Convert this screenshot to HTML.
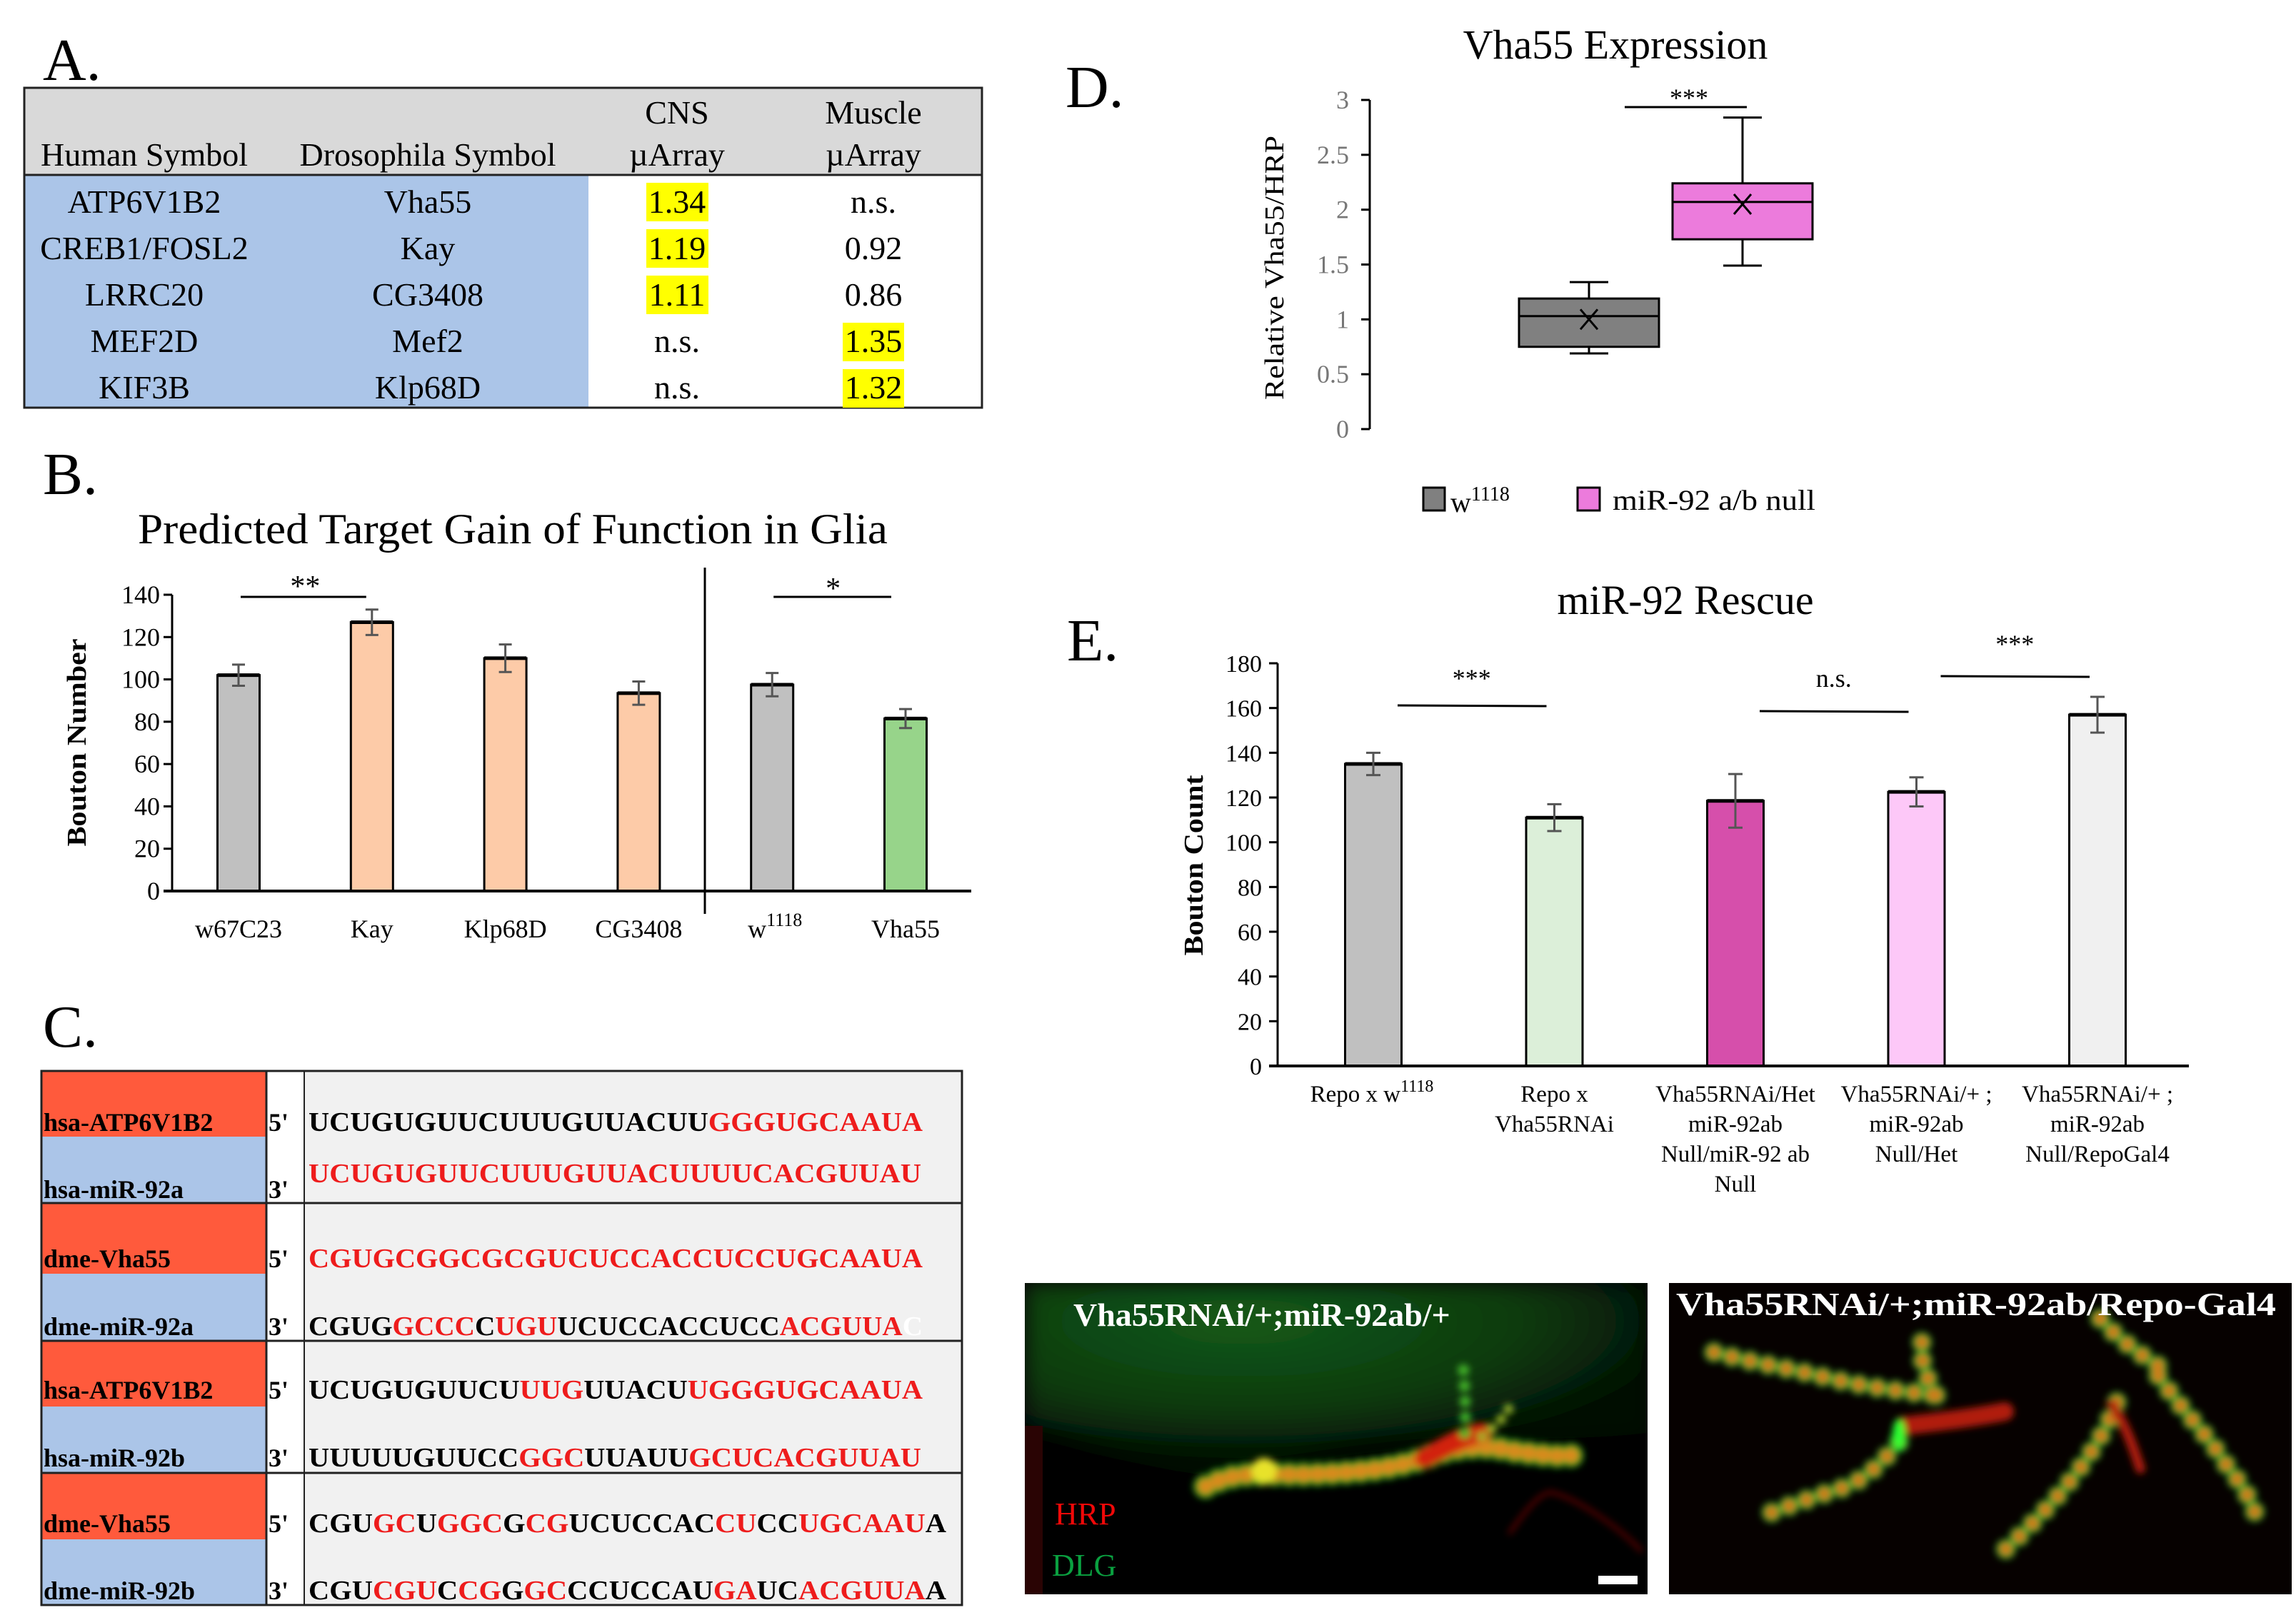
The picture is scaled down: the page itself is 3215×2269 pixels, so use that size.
<!DOCTYPE html>
<html><head><meta charset="utf-8"><title>Figure</title>
<style>
html,body{margin:0;padding:0;background:#fff;}
svg{display:block;font-family:"Liberation Serif","DejaVu Serif",serif;}
</style></head>
<body>
<svg id="fig" xmlns="http://www.w3.org/2000/svg" width="3215" height="2269" viewBox="0 0 3215 2269">
<defs>
<filter id="blur3" x="-20%" y="-20%" width="140%" height="140%"><feGaussianBlur stdDeviation="5"/></filter>
<filter id="blur12" x="-50%" y="-50%" width="200%" height="200%"><feGaussianBlur stdDeviation="14"/></filter>
<radialGradient id="haze" cx="0.35" cy="0.2" r="0.75">
<stop offset="0" stop-color="#145a18"/><stop offset="0.6" stop-color="#0b3a0e"/><stop offset="1" stop-color="#020902"/>
</radialGradient>
<clipPath id="clipL"><rect x="0" y="0" width="872" height="436"/></clipPath>
<clipPath id="clipR"><rect x="0" y="0" width="872" height="436"/></clipPath>
</defs>

<!-- Panel A -->
<g>
<text x="60" y="112" font-size="84">A.</text>
<g>
<rect x="34" y="123" width="1341" height="122" fill="#d9d9d9"/>
<rect x="34" y="245" width="790" height="326" fill="#abc5e8"/>
<rect x="34" y="123" width="1341" height="448" fill="none" stroke="#222" stroke-width="3"/>
<line x1="34" y1="245" x2="1375" y2="245" stroke="#222" stroke-width="3"/>
<g font-size="46" text-anchor="middle">
<text x="202" y="232">Human Symbol</text>
<text x="599" y="232">Drosophila Symbol</text>
<text x="948" y="173">CNS</text>
<text x="948" y="232">µArray</text>
<text x="1223" y="173">Muscle</text>
<text x="1223" y="232">µArray</text>
</g>
<g fill="#ffff00">
<rect x="905" y="256" width="87" height="54"/>
<rect x="905" y="321" width="87" height="54"/>
<rect x="905" y="386" width="87" height="54"/>
<rect x="1180" y="452" width="86" height="54"/>
<rect x="1180" y="517" width="86" height="54"/>
</g>
<g font-size="46" text-anchor="middle">
<text x="202" y="298">ATP6V1B2</text><text x="599" y="298">Vha55</text><text x="948" y="298">1.34</text><text x="1223" y="298">n.s.</text>
<text x="202" y="363">CREB1/FOSL2</text><text x="599" y="363">Kay</text><text x="948" y="363">1.19</text><text x="1223" y="363">0.92</text>
<text x="202" y="428">LRRC20</text><text x="599" y="428">CG3408</text><text x="948" y="428">1.11</text><text x="1223" y="428">0.86</text>
<text x="202" y="493">MEF2D</text><text x="599" y="493">Mef2</text><text x="948" y="493">n.s.</text><text x="1223" y="493">1.35</text>
<text x="202" y="558">KIF3B</text><text x="599" y="558">Klp68D</text><text x="948" y="558">n.s.</text><text x="1223" y="558">1.32</text>
</g>
</g>
</g>

<!-- Panel B -->
<g id="panelB">
<text x="60" y="692" font-size="84">B.</text>
<text x="718" y="761" font-size="60" text-anchor="middle" textLength="1050" lengthAdjust="spacingAndGlyphs">Predicted Target Gain of Function in Glia</text>
<text transform="translate(120,1040) rotate(-90)" font-size="38" font-weight="bold" text-anchor="middle" textLength="291" lengthAdjust="spacingAndGlyphs">Bouton Number</text>
</g>

<!-- Panel C -->
<g>
<text x="60" y="1466" font-size="84">C.</text>
<g>
<rect x="426" y="1500" width="921" height="748" fill="#f1f1f1"/>
<rect x="373" y="1500" width="53" height="748" fill="#ffffff"/>
<rect x="58" y="1500" width="315" height="92" fill="#ff5a3c"/><rect x="58" y="1592" width="315" height="93" fill="#abc5e8"/>
<rect x="58" y="1685" width="315" height="99" fill="#ff5a3c"/><rect x="58" y="1784" width="315" height="94" fill="#abc5e8"/>
<rect x="58" y="1878" width="315" height="92" fill="#ff5a3c"/><rect x="58" y="1970" width="315" height="93" fill="#abc5e8"/>
<rect x="58" y="2063" width="315" height="93" fill="#ff5a3c"/><rect x="58" y="2156" width="315" height="92" fill="#abc5e8"/>
<rect x="58" y="1500" width="1289" height="748" fill="none" stroke="#222" stroke-width="3"/>
<line x1="373" y1="1500" x2="373" y2="2248" stroke="#222" stroke-width="3"/>
<line x1="426" y1="1500" x2="426" y2="2248" stroke="#222" stroke-width="2"/>
<line x1="58" y1="1685" x2="1347" y2="1685" stroke="#222" stroke-width="3"/>
<line x1="58" y1="1878" x2="1347" y2="1878" stroke="#222" stroke-width="3"/>
<line x1="58" y1="2063" x2="1347" y2="2063" stroke="#222" stroke-width="3"/>
<g font-size="36" font-weight="bold">
<text x="61" y="1584">hsa-ATP6V1B2</text>
<text x="61" y="1678">hsa-miR-92a</text>
<text x="61" y="1775">dme-Vha55</text>
<text x="61" y="1870">dme-miR-92a</text>
<text x="61" y="1959">hsa-ATP6V1B2</text>
<text x="61" y="2054">hsa-miR-92b</text>
<text x="61" y="2146">dme-Vha55</text>
<text x="61" y="2240">dme-miR-92b</text>
<text x="376" y="1584">5'</text><text x="376" y="1678">3'</text>
<text x="376" y="1775">5'</text><text x="376" y="1870">3'</text>
<text x="376" y="1959">5'</text><text x="376" y="2054">3'</text>
<text x="376" y="2146">5'</text><text x="376" y="2240">3'</text>
</g>
<g font-size="38" font-weight="bold" fill="#000">
<text x="432" y="1584" textLength="860" lengthAdjust="spacingAndGlyphs">UCUGUGUUCUUUGUUACUU<tspan fill="#ee1c1c">GGGUGCAAUA</tspan></text>
<text x="432" y="1656" textLength="858" lengthAdjust="spacingAndGlyphs" fill="#ee1c1c">UCUGUGUUCUUUGUUACUUUUCACGUUAU</text>
<text x="432" y="1775" textLength="860" lengthAdjust="spacingAndGlyphs" fill="#ee1c1c">CGUGCGGCGCGUCUCCACCUCCUGCAAUA</text>
<text x="432" y="1870" textLength="860" lengthAdjust="spacingAndGlyphs">CGUG<tspan fill="#ee1c1c">GCCC</tspan>C<tspan fill="#ee1c1c">UGU</tspan>UCUCCACCUCC<tspan fill="#ee1c1c">ACGUUA</tspan><tspan fill="#ffffff">C</tspan></text>
<text x="432" y="1959" textLength="860" lengthAdjust="spacingAndGlyphs">UCUGUGUUCU<tspan fill="#ee1c1c">UUG</tspan>UUACU<tspan fill="#ee1c1c">UGGGUGCAAUA</tspan></text>
<text x="432" y="2054" textLength="858" lengthAdjust="spacingAndGlyphs">UUUUUGUUCC<tspan fill="#ee1c1c">GGC</tspan>UUAUU<tspan fill="#ee1c1c">GCUCACGUUAU</tspan></text>
<text x="432" y="2146" textLength="893" lengthAdjust="spacingAndGlyphs">CGU<tspan fill="#ee1c1c">GC</tspan>U<tspan fill="#ee1c1c">GGC</tspan>G<tspan fill="#ee1c1c">CG</tspan>UCUCCAC<tspan fill="#ee1c1c">CU</tspan>CC<tspan fill="#ee1c1c">UGCAAU</tspan>A</text>
<text x="432" y="2240" textLength="893" lengthAdjust="spacingAndGlyphs">CGU<tspan fill="#ee1c1c">CGU</tspan>C<tspan fill="#ee1c1c">CG</tspan>G<tspan fill="#ee1c1c">GC</tspan>CCUCCAU<tspan fill="#ee1c1c">GA</tspan>UC<tspan fill="#ee1c1c">ACGUUA</tspan>A</text>
</g>
</g>
</g>

<!-- Panel D -->
<g id="panelD">
<text x="1492" y="150" font-size="84">D.</text>
<text x="2262" y="82" font-size="58" text-anchor="middle">Vha55 Expression</text>
<text transform="translate(1797,375) rotate(-90)" font-size="38" text-anchor="middle" textLength="370" lengthAdjust="spacingAndGlyphs">Relative Vha55/HRP</text>
</g>

<!-- Panel E -->
<g id="panelE">
<text x="1494" y="925" font-size="84">E.</text>
<text x="2360" y="860" font-size="58" text-anchor="middle">miR-92 Rescue</text>
<text transform="translate(1684,1212) rotate(-90)" font-size="38" font-weight="bold" text-anchor="middle" textLength="253" lengthAdjust="spacingAndGlyphs">Bouton Count</text>
</g>

<!-- Micrographs -->
<g transform="translate(1435,1797)">
<g clip-path="url(#clipL)">
<rect width="872" height="436" fill="#000"/>
<path d="M0 0 H872 V210 C700 230 500 200 380 250 C250 300 150 240 0 200 Z" fill="url(#haze)" filter="url(#blur12)"/>
<rect x="0" y="200" width="25" height="236" fill="#2a0404"/>
<g filter="url(#blur3)" fill="none" stroke-linecap="round">
<path d="M253 285 C300 260 340 270 400 268 C460 266 520 260 560 245 C600 230 640 225 680 235 C720 240 750 245 775 240" stroke="#1ea41e" stroke-width="34" stroke-dasharray="0 20"/>
<path d="M253 285 C300 260 340 270 400 268 C460 266 520 260 560 245 C600 230 640 225 680 235 C720 240 750 245 775 240" stroke="#d98a1c" stroke-width="22" stroke-dasharray="0 20"/>
<path d="M560 245 C590 230 610 215 640 210" stroke="#d22010" stroke-width="28"/>
<path d="M616 210 C618 180 616 150 614 118" stroke="#44b82a" stroke-width="16" stroke-dasharray="0 22"/>
<path d="M640 215 C660 200 675 185 680 170" stroke="#9bb52a" stroke-width="14" stroke-dasharray="0 18"/>
<path d="M679 350 C700 320 720 295 736 293 C770 300 830 340 863 375" stroke="#7a0c06" stroke-width="4"/>
<circle cx="335" cy="263" r="18" fill="#e8e22a" stroke="none"/>
</g>
<text x="68" y="60" font-size="46" font-weight="bold" fill="#fff">Vha55RNAi/+;miR-92ab/+</text>
<text x="42" y="338" font-size="44" fill="#f00808">HRP</text>
<text x="38" y="410" font-size="44" fill="#0aa040">DLG</text>
<rect x="803" y="410" width="55" height="12" fill="#fff"/>
</g>
</g>
<g transform="translate(2337,1797)">
<g clip-path="url(#clipR)">
<rect width="872" height="436" fill="#060100"/>
<g filter="url(#blur3)" fill="none" stroke-linecap="round">
<g stroke="#2aa62a" stroke-width="28" stroke-dasharray="0 26">
<path d="M63 97 C110 110 155 117 210 130 C250 140 300 150 374 157"/>
<path d="M322 223 C300 250 280 270 250 285 C200 300 160 315 121 330"/>
<path d="M627 167 C600 240 540 310 466 378"/>
<path d="M685 130 C720 180 760 220 777 250 C800 280 815 300 823 330"/>
<path d="M604 50 C630 80 660 100 696 123"/>
<path d="M374 157 C360 130 350 110 355 75"/>
</g>
<g stroke="#cf7a1a" stroke-width="18" stroke-dasharray="0 26">
<path d="M63 97 C110 110 155 117 210 130 C250 140 300 150 374 157"/>
<path d="M322 223 C300 250 280 270 250 285 C200 300 160 315 121 330"/>
<path d="M627 167 C600 240 540 310 466 378"/>
<path d="M685 130 C720 180 760 220 777 250 C800 280 815 300 823 330"/>
<path d="M604 50 C630 80 660 100 696 123"/>
<path d="M374 157 C360 130 350 110 355 75"/>
</g>
<path d="M330 200 C370 195 420 190 470 180" stroke="#b01a0e" stroke-width="26"/>
<path d="M620 170 C640 200 650 230 660 260" stroke="#b01a0e" stroke-width="14"/>
<ellipse cx="322" cy="212" rx="9" ry="22" fill="#2bff30" stroke="none"/>
</g>
</g>
<text x="10" y="45" font-size="46" font-weight="bold" fill="#fff" textLength="840" lengthAdjust="spacingAndGlyphs">Vha55RNAi/+;miR-92ab/Repo-Gal4</text>
</g>

<script>
// ---------- Panel B data ----------
const bCategories = ['w67C23','Kay','Klp68D','CG3408','w1118','Vha55'];
const bValues = [102, 127, 110, 93.5, 97.5, 81.5];
const bErrors = [5, 6, 6.5, 5.5, 5.5, 4.5];
const bColors = ['#c0c0c0','#fdcba8','#fdcba8','#fdcba8','#c0c0c0','#97d48a'];
const bTicks = [0, 20, 40, 60, 80, 100, 120, 140];

// ---------- Panel D data ----------
const dGroups = ['w1118','miR-92 a/b null'];
const dMin = [0.69, 1.49];
const dQ1 = [0.75, 1.73];
const dMedian = [1.03, 2.07];
const dQ3 = [1.19, 2.24];
const dMax = [1.34, 2.84];
const dMean = [1.0, 2.05];
const dTicks = [0, 0.5, 1, 1.5, 2, 2.5, 3];
const dTickLabels = ['0','0.5','1','1.5','2','2.5','3'];

// ---------- Panel E data ----------
const eCategories = ['Repo x w1118','Repo x Vha55RNAi','Vha55RNAi/Het miR-92ab Null/miR-92 ab Null','Vha55RNAi/+ ; miR-92ab Null/Het','Vha55RNAi/+ ; miR-92ab Null/RepoGal4'];
const eValues = [135, 111, 118.5, 122.5, 157];
const eErrors = [5, 6, 12, 6.5, 8];
const eColors = ['#c0c0c0','#dcefd9','#d64fab','#fdc8f8','#f0f0f0'];
const eTicks = [0, 20, 40, 60, 80, 100, 120, 140, 160, 180];

const NS = 'http://www.w3.org/2000/svg';
function mk(tag, attrs, parent){
  const e = document.createElementNS(NS, tag);
  for (const k in attrs) e.setAttribute(k, attrs[k]);
  parent.appendChild(e);
  return e;
}
function withSup(t, base, sup, fs, dy){
  t.textContent = '';
  t.appendChild(document.createTextNode(base));
  const ts = document.createElementNS(NS, 'tspan');
  ts.setAttribute('font-size', fs);
  ts.setAttribute('dy', dy);
  ts.textContent = sup;
  t.appendChild(ts);
}

// ===== Chart B =====
(function(){
  const g = document.getElementById('panelB');
  const y0 = 1248, yTop = 833, vMax = 140;
  const by = v => y0 - v * (y0 - yTop) / vMax;
  const bx = i => 334 + i * 186.8;
  const bw = 59;
  bTicks.forEach(t => {
    const tk = mk('line', {x1:229, x2:241, y1:by(t), y2:by(t), stroke:'#000','stroke-width':3}, g);
    
    
    const tl = mk('text', {x:224, y:by(t)+12, 'font-size':36, 'text-anchor':'end'}, g);
    tl.textContent = t;
    
    
  });
  const ax = mk('line', {x1:241, x2:241, y1:yTop, y2:y0, stroke:'#000','stroke-width':3}, g);
  
  
  bValues.forEach((v, i) => {
    const r = mk('rect', {x:bx(i)-bw/2, y:by(v), width:bw, height:y0-by(v), fill:bColors[i], stroke:'#000','stroke-width':3}, g);
    
    
    mk('line', {x1:bx(i)-bw/2, x2:bx(i)+bw/2, y1:by(v), y2:by(v), stroke:'#000','stroke-width':5}, g);
    const e = mk('path', {d:`M${bx(i)} ${by(v+bErrors[i])} V${by(v-bErrors[i])} M${bx(i)-9} ${by(v+bErrors[i])} H${bx(i)+9} M${bx(i)-9} ${by(v-bErrors[i])} H${bx(i)+9}`, stroke:'#555','stroke-width':3, fill:'none'}, g);
    
    
    const lab = mk('text', {x:bx(i), y:1313, 'font-size':36, 'text-anchor':'middle'}, g);
    if (bCategories[i] === 'w1118') {
      lab.setAttribute('x', bx(i) + 4);
      withSup(lab, 'w', '1118', 26, -16);
    } else lab.textContent = bCategories[i];
    
    
  });
  const xa = mk('line', {x1:229, x2:1360, y1:y0, y2:y0, stroke:'#000','stroke-width':4}, g);
  
  
  const sep = mk('line', {x1:987, x2:987, y1:795, y2:1280, stroke:'#000','stroke-width':3}, g);
  
  
  const s1 = mk('line', {x1:bx(0)+3, x2:bx(1)-8, y1:836, y2:836, stroke:'#000','stroke-width':3}, g);
  
  
  const t1 = mk('text', {x:(bx(0)+bx(1))/2, y:835, 'font-size':42, 'text-anchor':'middle'}, g);
  t1.textContent = '**';
  
  
  const s2 = mk('line', {x1:bx(4)+2, x2:bx(5)-20, y1:836, y2:836, stroke:'#000','stroke-width':3}, g);
  
  
  const t2 = mk('text', {x:(bx(4)+bx(5))/2-8, y:838, 'font-size':42, 'text-anchor':'middle'}, g);
  t2.textContent = '*';
  
  
})();

// ===== Chart D =====
(function(){
  const g = document.getElementById('panelD');
  const y0 = 601, yTop = 140, vMax = 3;
  const dy = v => y0 - v * (y0 - yTop) / vMax;
  const dx = i => 2225 + i * 215;
  const bw = 196;
  dTicks.forEach((t, i) => {
    const tk = mk('line', {x1:1906, x2:1918, y1:dy(t), y2:dy(t), stroke:'#000','stroke-width':3}, g);
    
    
    const tl = mk('text', {x:1889, y:dy(t)+12, 'font-size':36, fill:'#777','text-anchor':'end'}, g);
    tl.textContent = dTickLabels[i];
    
    
  });
  const ax = mk('line', {x1:1918, x2:1918, y1:yTop, y2:y0, stroke:'#000','stroke-width':3}, g);
  
  
  const cols = ['#808080', '#ec7bdc'];
  dGroups.forEach((name, i) => {
    const cx = dx(i);
    const w = mk('path', {d:`M${cx} ${dy(dMax[i])} V${dy(dQ3[i])} M${cx} ${dy(dQ1[i])} V${dy(dMin[i])} M${cx-27} ${dy(dMax[i])} H${cx+27} M${cx-27} ${dy(dMin[i])} H${cx+27}`, stroke:'#000','stroke-width':3, fill:'none'}, g);
    
    
    const b = mk('rect', {x:cx-bw/2, y:dy(dQ3[i]), width:bw, height:dy(dQ1[i])-dy(dQ3[i]), fill:cols[i], stroke:'#000','stroke-width':3}, g);
    
    
    const m = mk('line', {x1:cx-bw/2, x2:cx+bw/2, y1:dy(dMedian[i]), y2:dy(dMedian[i]), stroke:'#000','stroke-width':3}, g);
    
    
    const my = dy(dMean[i]);
    const x = mk('path', {d:`M${cx-12} ${my-14} L${cx+12} ${my+14} M${cx+12} ${my-14} L${cx-12} ${my+14}`, stroke:'#000','stroke-width':3, fill:'none'}, g);
    
    
  });
  const sl = mk('line', {x1:2275, x2:2446, y1:150, y2:150, stroke:'#000','stroke-width':3}, g);
  
  
  const st = mk('text', {x:2365, y:149, 'font-size':36, 'text-anchor':'middle'}, g);
  st.textContent = '***';
  
  
  // legend
  const l1 = mk('rect', {x:1993, y:683, width:30, height:32, fill:cols[0], stroke:'#000','stroke-width':3}, g);
  
  
  const lt1 = mk('text', {x:2031, y:717, 'font-size':40}, g);
  withSup(lt1, 'w', '1118', 28, -16);
  
  
  const l2 = mk('rect', {x:2209, y:683, width:31, height:32, fill:cols[1], stroke:'#000','stroke-width':3}, g);
  
  
  const lt2 = mk('text', {x:2258, y:714, 'font-size':40, textLength:284, lengthAdjust:'spacingAndGlyphs'}, g);
  lt2.textContent = dGroups[1];
  
  
})();

// ===== Chart E =====
(function(){
  const g = document.getElementById('panelE');
  const y0 = 1493, yTop = 929, vMax = 180;
  const ey = v => y0 - v * (y0 - yTop) / vMax;
  const ex = i => 1923 + i * 253.5;
  const bw = 79;
  eTicks.forEach(t => {
    const tk = mk('line', {x1:1777, x2:1789, y1:ey(t), y2:ey(t), stroke:'#000','stroke-width':3}, g);
    
    
    const tl = mk('text', {x:1767, y:ey(t)+12, 'font-size':34, 'text-anchor':'end'}, g);
    tl.textContent = t;
    
    
  });
  const ax = mk('line', {x1:1789, x2:1789, y1:yTop, y2:y0, stroke:'#000','stroke-width':3}, g);
  
  
  const labelLines = eCategories.map(c => {
    if (c === 'Repo x w1118') return ['Repo x w1118'];
    if (c === 'Repo x Vha55RNAi') return ['Repo x', 'Vha55RNAi'];
    const p = c.split(' miR-92ab ');
    const rest = p[1] === 'Null/miR-92 ab Null' ? ['Null/miR-92 ab', 'Null'] : [p[1]];
    return [p[0], 'miR-92ab'].concat(rest);
  });
  eValues.forEach((v, i) => {
    const r = mk('rect', {x:ex(i)-bw/2, y:ey(v), width:bw, height:y0-ey(v), fill:eColors[i], stroke:'#000','stroke-width':3}, g);
    
    
    mk('line', {x1:ex(i)-bw/2, x2:ex(i)+bw/2, y1:ey(v), y2:ey(v), stroke:'#000','stroke-width':5}, g);
    const e = mk('path', {d:`M${ex(i)} ${ey(v+eErrors[i])} V${ey(v-eErrors[i])} M${ex(i)-10} ${ey(v+eErrors[i])} H${ex(i)+10} M${ex(i)-10} ${ey(v-eErrors[i])} H${ex(i)+10}`, stroke:'#555','stroke-width':3, fill:'none'}, g);
    
    
    labelLines[i].forEach((ln, k) => {
      const t = mk('text', {x:ex(i), y:1543 + k*42, 'font-size':33, 'text-anchor':'middle'}, g);
      if (ln === 'Repo x w1118') {
        t.setAttribute('x', ex(i) - 2);
        withSup(t, 'Repo x w', '1118', 24, -14);
      } else t.textContent = ln;
      
      
    });
  });
  const xa = mk('line', {x1:1777, x2:3065, y1:y0, y2:y0, stroke:'#000','stroke-width':4}, g);
  
  
  const sig = [[0,1,'***',988,962],[2,3,'n.s.',996,962],[3,4,'***',947,914]];
  sig.forEach(s => {
    const l = mk('line', {x1:ex(s[0])+34, x2:ex(s[1])-11, y1:s[3], y2:s[3]+1, stroke:'#000','stroke-width':3}, g);
    
    
    const t = mk('text', {x:(ex(s[0])+ex(s[1]))/2+11, y:s[4], 'font-size':36, 'text-anchor':'middle'}, g);
    t.textContent = s[2];
    
    
  });
})();
</script>
</svg>
</body></html>
